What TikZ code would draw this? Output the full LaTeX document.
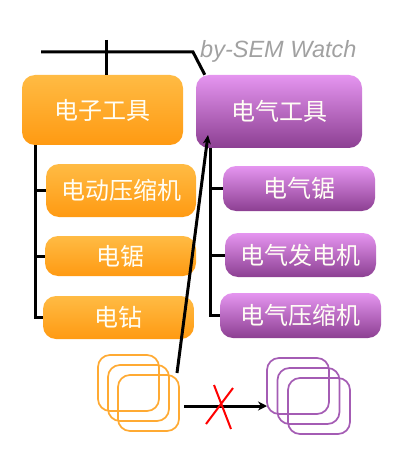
\documentclass[tikz,border=0pt]{standalone}
\usepackage{fontspec}
\setmainfont{Liberation Sans}
\newfontfamily\cjk{Noto Sans CJK SC}
\usetikzlibrary{arrows.meta}
\definecolor{orgtop}{HTML}{FFBB44}
\definecolor{orgbot}{HTML}{FF9A12}
\definecolor{purtop}{HTML}{E595F0}
\definecolor{purbot}{HTML}{8C3F92}
\definecolor{orgline}{HTML}{FFAA33}
\definecolor{purline}{HTML}{A45CB4}
\tikzset{
  toolbox/.style={rounded corners=13pt,inner sep=0pt,text=white!96!yellow,font=\cjk\fontsize{24}{24}\selectfont},
  orangebox/.style={toolbox,top color=orgtop,bottom color=orgbot},
  purplebox/.style={toolbox,top color=purtop,bottom color=purbot},
  treeline/.style={line width=3pt},
  stack/.style={line width=1.7pt,rounded corners=12pt},
}
\begin{document}
\begin{tikzpicture}[x=1pt,y=-1pt]
\useasboundingbox (0,0) rectangle (403,457);
\node[orangebox,minimum width=161pt,minimum height=70pt](dzgj)at(102.5,110){电子工具};
\node[purplebox,minimum width=166pt,minimum height=73pt](dqgj)at(279,111.5){电气工具};
\node[orangebox,minimum width=150pt,minimum height=53pt](ddysj)at(121,190.5){电动压缩机};
\node[orangebox,minimum width=151pt,minimum height=40pt](dj)at(120.5,256){电锯};
\node[orangebox,minimum width=151pt,minimum height=43pt](dz)at(118.5,317.5){电钻};
\node[purplebox,minimum width=152pt,minimum height=45pt](dqj)at(299,188.5){电气锯};
\node[purplebox,minimum width=151pt,minimum height=44pt](dqfdj)at(300.5,255){电气发电机};
\node[purplebox,minimum width=161pt,minimum height=45pt](dqysj)at(300.5,315.5){电气压缩机};
\node[anchor=base west,inner sep=0pt,text=black!37,font=\itshape\fontsize{23.5}{24}\selectfont](wm)at(200,58){by-SEM Watch};
% top bar
\coordinate(barL)at(41,52);
\coordinate(barR)at(193,52);
\coordinate(tick)at(106,40);
\draw[treeline](barL)--(barR)--([xshift=9pt]dqgj.north west);
\draw[treeline](tick)--(tick|-dzgj.north);
% left tree
\coordinate(spineE)at(35,0);
\draw[treeline](spineE|-dzgj.south)|-(dz.west);
\draw[treeline](spineE|-ddysj.west)--(ddysj.west);
\draw[treeline](spineE|-dj.west)--(dj.west);
% right tree
\coordinate(spineQ)at(210,0);
\draw[treeline](spineQ|-dqgj.south)|-(dqysj.west);
\draw[treeline](spineQ|-dqj.west)--(dqj.west);
\draw[treeline](spineQ|-dqfdj.west)--(dqfdj.west);
% stacks
\foreach \d in {0,10,20}{
  \draw[stack,orgline](98+\d,355+\d)rectangle++(61,56);
  \draw[stack,purline](267+\d*1.05,358+\d)rectangle++(62,56);
}
\coordinate(stE)at(177,373);
\coordinate(tipQ)at(208,135);
\coordinate(arrE)at(184,406);
\coordinate(arrQ)at(267,406);
\draw[treeline,-{Stealth[length=9pt,width=8pt]}](stE)--(tipQ);
\draw[treeline,-{Stealth[length=9pt,width=9pt]}](arrE)--(arrQ);
\draw[red,line width=2pt](214,385)--(231,429)(233,388)--(206,424);
\end{tikzpicture}
\end{document}
